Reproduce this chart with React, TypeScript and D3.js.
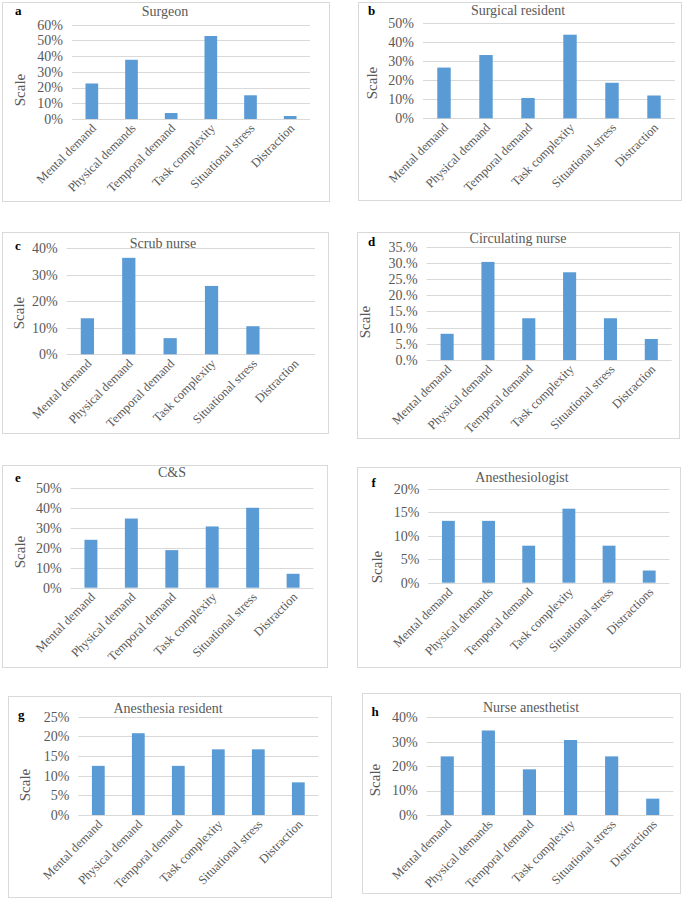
import React from 'react';
import * as d3 from 'd3';

// category labels (three spellings used across the panels)
const CATS_A = ['Mental demand', 'Physical demands', 'Temporal demand', 'Task complexity', 'Situational stress', 'Distraction'];
const CATS_B = ['Mental demand', 'Physical demand', 'Temporal demand', 'Task complexity', 'Situational stress', 'Distraction'];
const CATS_F = ['Mental demand', 'Physical demands', 'Temporal demand', 'Task complexity', 'Situational stress', 'Distractions'];

// values in percent
const surgeon = [22.6, 37.7, 3.8, 52.8, 15.1, 1.9];
const surgicalResident = [26.7, 33.3, 10.7, 44.0, 18.7, 12.0];
const scrubNurse = [13.6, 36.4, 6.1, 25.8, 10.6, 0];
const circulatingNurse = [8.1, 30.3, 12.9, 27.1, 12.9, 6.5];
const cAndS = [24.1, 34.8, 18.9, 30.8, 40.2, 7.0];
const anesthesiologist = [13.2, 13.2, 7.9, 15.8, 7.9, 2.6];
const anesthesiaResident = [12.5, 20.8, 12.5, 16.7, 16.7, 8.3];
const nurseAnesthetist = [24.0, 34.6, 18.7, 30.7, 24.0, 6.7];

// y ticks
const TICKS_60 = [0, 10, 20, 30, 40, 50, 60];
const TICKS_50 = [0, 10, 20, 30, 40, 50];
const TICKS_40 = [0, 10, 20, 30, 40];
const TICKS_35 = [0, 5, 10, 15, 20, 25, 30, 35];
const TICKS_25 = [0, 5, 10, 15, 20, 25];
const TICKS_20 = [0, 5, 10, 15, 20];
const LABELS_35 = ['0.%', '5.%', '10.%', '15.%', '20.%', '25.%', '30.%', '35.%'];

const BAR = '#5B9BD5';
const GRID = '#D9D9D9';
const TXT = '#595959';
const FONT = '"Liberation Serif", "Times New Roman", serif';

interface PanelDef {
  letter: string;
  title: string;
  cats: string[];
  values: number[];
  ticks: number[];
  tickLabels?: string[];
  box: [number, number, number, number]; // x0, y0, x1, y1
  plot: [number, number, number, number]; // left, right, topTickY, zeroY
  titleXY: [number, number];
  letterXY: [number, number];
  scaleXY: [number, number];
}

const PANELS: PanelDef[] = [
  { letter: 'a', title: 'Surgeon', cats: CATS_A, values: surgeon, ticks: TICKS_60,
    box: [2, 2, 329, 201], plot: [72, 310, 24.7, 119], titleXY: [165, 16], letterXY: [15, 15], scaleXY: [20, 90] },
  { letter: 'b', title: 'Surgical resident', cats: CATS_B, values: surgicalResident, ticks: TICKS_50,
    box: [358, 2, 681, 200], plot: [423, 675, 23.3, 118.3], titleXY: [518, 15], letterXY: [368, 15], scaleXY: [372, 83] },
  { letter: 'c', title: 'Scrub nurse', cats: CATS_B, values: scrubNurse, ticks: TICKS_40,
    box: [2, 232, 328, 433], plot: [66.7, 315, 248.3, 354.3], titleXY: [163, 248], letterXY: [15, 250], scaleXY: [19, 313] },
  { letter: 'd', title: 'Circulating nurse', cats: CATS_B, values: circulatingNurse, ticks: TICKS_35, tickLabels: LABELS_35,
    box: [357, 232, 679, 438], plot: [426.7, 671.7, 246.7, 360], titleXY: [518, 243], letterXY: [368, 245.5], scaleXY: [365, 322] },
  { letter: 'e', title: 'C&S', cats: CATS_B, values: cAndS, ticks: TICKS_50,
    box: [2, 465, 327, 667], plot: [70.7, 313.3, 488.3, 587.7], titleXY: [172, 477], letterXY: [15, 481.5], scaleXY: [20, 552] },
  { letter: 'f', title: 'Anesthesiologist', cats: CATS_F, values: anesthesiologist, ticks: TICKS_20,
    box: [357, 467, 680, 667], plot: [428.3, 669.3, 489, 582.7], titleXY: [522, 482], letterXY: [371.5, 486.5], scaleXY: [377, 567] },
  { letter: 'g', title: 'Anesthesia resident', cats: CATS_B, values: anesthesiaResident, ticks: TICKS_25,
    box: [8, 696, 331, 897], plot: [78.3, 318.3, 716.7, 815], titleXY: [168, 713], letterXY: [18, 719], scaleXY: [25, 785] },
  { letter: 'h', title: 'Nurse anesthetist', cats: CATS_F, values: nurseAnesthetist, ticks: TICKS_40,
    box: [362, 693, 680, 893], plot: [426.7, 673.3, 717.3, 815], titleXY: [531, 712], letterXY: [371.5, 716], scaleXY: [375, 780] },
];

const Panel: React.FC<{ p: PanelDef }> = ({ p }) => {
  const [left, right, top, zero] = p.plot;
  const maxTick = p.ticks[p.ticks.length - 1];

  const x = d3.scaleBand<string>()
    .domain(p.cats)
    .range([left, right])
    .paddingInner(0.68)
    .paddingOuter(0.34);

  const y = d3.scaleLinear().domain([0, maxTick]).range([zero, top]);

  const [bx0, by0, bx1, by1] = p.box;

  return (
    <g>
      <rect x={bx0 + 0.5} y={by0 + 0.5} width={bx1 - bx0} height={by1 - by0} fill="#fff" stroke={GRID} strokeWidth={1} />

      {/* gridlines + tick labels */}
      {p.ticks.map((t, i) => (
        <g key={t}>
          <line x1={left} x2={right} y1={Math.round(y(t)) + 0.5} y2={Math.round(y(t)) + 0.5} stroke={GRID} strokeWidth={1} />
          <text x={left - 9} y={y(t)} dy="0.35em" textAnchor="end" fontSize={14} fill={TXT} fontFamily={FONT}>
            {p.tickLabels ? p.tickLabels[i] : `${t}%`}
          </text>
        </g>
      ))}

      {/* bars */}
      {p.values.map((v, i) => (
        <rect key={i} x={x(p.cats[i])} y={y(v)} width={x.bandwidth()} height={zero - y(v)} fill={BAR} />
      ))}

      {/* category labels */}
      {p.cats.map((c) => {
        const cx = (x(c) || 0) + x.bandwidth() / 2;
        return (
          <text key={c} transform={`translate(${cx + 5},${zero + 10}) rotate(-45)`} textAnchor="end"
            fontSize={12.5} fill={TXT} fontFamily={FONT}>
            {c}
          </text>
        );
      })}

      <text x={p.titleXY[0]} y={p.titleXY[1]} textAnchor="middle" fontSize={14} fill={TXT} fontFamily={FONT}>{p.title}</text>
      <text x={p.letterXY[0]} y={p.letterXY[1]} fontSize={13} fontWeight="bold" fill="#000" fontFamily={FONT}>{p.letter}</text>
      <text transform={`translate(${p.scaleXY[0] + 5},${p.scaleXY[1]}) rotate(-90)`} textAnchor="middle"
        fontSize={15} fill={TXT} fontFamily={FONT}>Scale</text>
    </g>
  );
};

export default function App() {
  return (
    <svg width={685} height={898} style={{ position: 'absolute', left: 0, top: 0, background: '#fff' }}>
      {PANELS.map((p) => <Panel key={p.letter} p={p} />)}
    </svg>
  );
}
